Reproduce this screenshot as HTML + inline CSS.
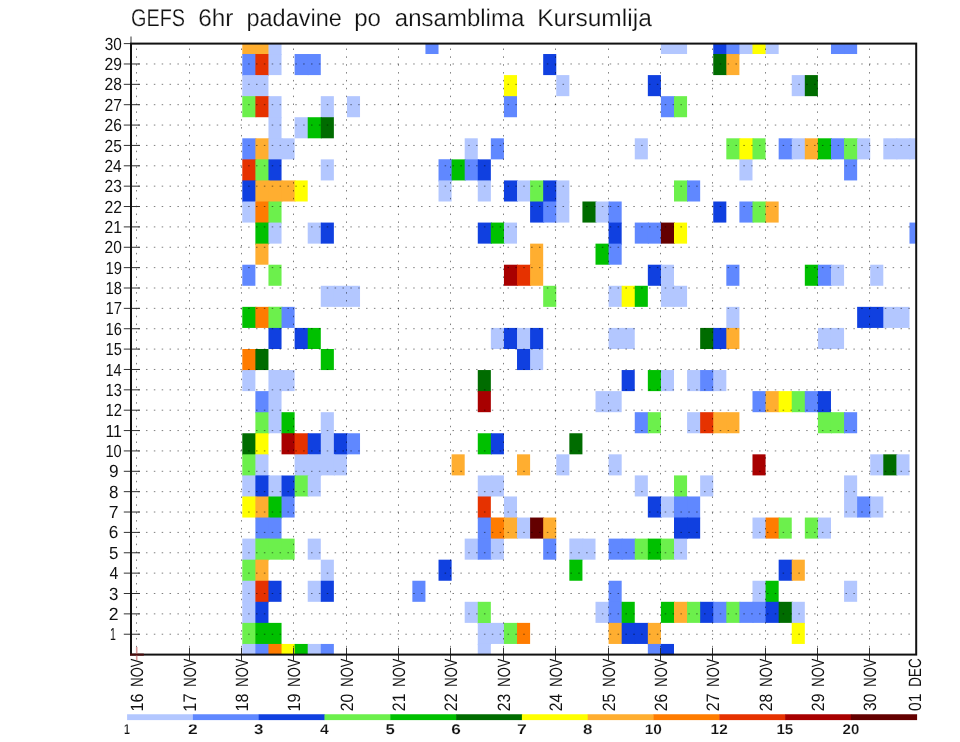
<!DOCTYPE html><html><head><meta charset="utf-8"><style>html,body{margin:0;padding:0;background:#fff;}svg{display:block;will-change:transform;}</style></head><body>
<svg width="960" height="742" viewBox="0 0 960 742" font-family="Liberation Sans, sans-serif" text-rendering="geometricPrecision">
<rect x="0" y="0" width="960" height="742" fill="#fff"/>
<g><rect x="242.30" y="43.60" width="14.08" height="11.42" fill="#ffae30"/><rect x="255.38" y="43.60" width="14.08" height="11.42" fill="#ffae30"/><rect x="268.46" y="43.60" width="13.08" height="11.42" fill="#b3c7ff"/><rect x="425.44" y="43.60" width="13.08" height="10.42" fill="#6088ff"/><rect x="660.92" y="43.60" width="14.08" height="10.42" fill="#b3c7ff"/><rect x="674.00" y="43.60" width="13.08" height="10.42" fill="#b3c7ff"/><rect x="713.25" y="43.60" width="14.08" height="11.42" fill="#1040e0"/><path d="M726.33 43.60H740.41V54.02H739.41V55.02H726.33Z" fill="#6088ff"/><rect x="739.41" y="43.60" width="14.08" height="10.42" fill="#b3c7ff"/><rect x="752.49" y="43.60" width="14.08" height="10.42" fill="#ffff00"/><rect x="765.58" y="43.60" width="13.08" height="10.42" fill="#b3c7ff"/><rect x="830.99" y="43.60" width="14.08" height="10.42" fill="#6088ff"/><rect x="844.07" y="43.60" width="13.08" height="10.42" fill="#6088ff"/><rect x="242.30" y="54.02" width="14.08" height="22.07" fill="#6088ff"/><path d="M255.38 54.02H269.46V75.09H268.46V76.09H255.38Z" fill="#e63200"/><rect x="268.46" y="54.02" width="13.08" height="21.07" fill="#b3c7ff"/><rect x="294.62" y="54.02" width="14.08" height="21.07" fill="#6088ff"/><rect x="307.71" y="54.02" width="13.08" height="21.07" fill="#6088ff"/><rect x="543.18" y="54.02" width="13.08" height="21.07" fill="#1040e0"/><rect x="713.25" y="54.02" width="14.08" height="21.07" fill="#006c00"/><rect x="726.33" y="54.02" width="13.08" height="21.07" fill="#ffae30"/><rect x="242.30" y="75.09" width="14.08" height="22.07" fill="#b3c7ff"/><rect x="255.38" y="75.09" width="13.08" height="22.07" fill="#b3c7ff"/><rect x="503.94" y="75.09" width="13.08" height="22.07" fill="#ffff00"/><rect x="556.26" y="75.09" width="13.08" height="21.07" fill="#b3c7ff"/><rect x="647.84" y="75.09" width="13.08" height="21.07" fill="#1040e0"/><rect x="791.74" y="75.09" width="14.08" height="21.07" fill="#b3c7ff"/><rect x="804.82" y="75.09" width="13.08" height="21.07" fill="#006c00"/><rect x="242.30" y="96.16" width="14.08" height="21.07" fill="#6cf04c"/><rect x="255.38" y="96.16" width="14.08" height="21.07" fill="#e63200"/><rect x="268.46" y="96.16" width="13.08" height="22.07" fill="#b3c7ff"/><rect x="320.79" y="96.16" width="13.08" height="22.07" fill="#b3c7ff"/><rect x="346.95" y="96.16" width="13.08" height="21.07" fill="#b3c7ff"/><rect x="503.94" y="96.16" width="13.08" height="21.07" fill="#6088ff"/><rect x="660.92" y="96.16" width="14.08" height="21.07" fill="#6088ff"/><rect x="674.00" y="96.16" width="13.08" height="21.07" fill="#6cf04c"/><rect x="268.46" y="117.23" width="13.08" height="22.07" fill="#b3c7ff"/><rect x="294.62" y="117.23" width="14.08" height="21.07" fill="#b3c7ff"/><rect x="307.71" y="117.23" width="14.08" height="21.07" fill="#00c000"/><rect x="320.79" y="117.23" width="13.08" height="21.07" fill="#006c00"/><rect x="242.30" y="138.30" width="14.08" height="22.07" fill="#6088ff"/><rect x="255.38" y="138.30" width="14.08" height="22.07" fill="#ffae30"/><path d="M268.46 138.30H282.54V159.37H281.54V160.37H268.46Z" fill="#b3c7ff"/><rect x="281.54" y="138.30" width="13.08" height="21.07" fill="#b3c7ff"/><rect x="464.69" y="138.30" width="13.08" height="22.07" fill="#b3c7ff"/><rect x="490.85" y="138.30" width="13.08" height="21.07" fill="#6088ff"/><rect x="634.76" y="138.30" width="13.08" height="21.07" fill="#b3c7ff"/><rect x="726.33" y="138.30" width="14.08" height="21.07" fill="#6cf04c"/><path d="M739.41 138.30H753.49V159.37H752.49V160.37H739.41Z" fill="#ffff00"/><rect x="752.49" y="138.30" width="13.08" height="21.07" fill="#6cf04c"/><rect x="778.66" y="138.30" width="14.08" height="21.07" fill="#6088ff"/><rect x="791.74" y="138.30" width="14.08" height="21.07" fill="#b3c7ff"/><rect x="804.82" y="138.30" width="14.08" height="21.07" fill="#ffae30"/><rect x="817.90" y="138.30" width="14.08" height="21.07" fill="#00c000"/><rect x="830.99" y="138.30" width="14.08" height="21.07" fill="#6088ff"/><path d="M844.07 138.30H858.15V159.37H857.15V160.37H844.07Z" fill="#6cf04c"/><rect x="857.15" y="138.30" width="13.08" height="21.07" fill="#b3c7ff"/><rect x="883.31" y="138.30" width="14.08" height="21.07" fill="#b3c7ff"/><rect x="896.40" y="138.30" width="14.08" height="21.07" fill="#b3c7ff"/><rect x="909.48" y="138.30" width="6.72" height="21.07" fill="#b3c7ff"/><rect x="242.30" y="159.37" width="14.08" height="22.07" fill="#e63200"/><rect x="255.38" y="159.37" width="14.08" height="22.07" fill="#6cf04c"/><rect x="268.46" y="159.37" width="13.08" height="22.07" fill="#1040e0"/><rect x="320.79" y="159.37" width="13.08" height="21.07" fill="#b3c7ff"/><path d="M438.53 159.37H452.61V180.43H451.61V181.43H438.53Z" fill="#6088ff"/><rect x="451.61" y="159.37" width="14.08" height="21.07" fill="#00c000"/><rect x="464.69" y="159.37" width="14.08" height="21.07" fill="#6088ff"/><rect x="477.77" y="159.37" width="13.08" height="22.07" fill="#1040e0"/><rect x="739.41" y="159.37" width="13.08" height="21.07" fill="#b3c7ff"/><rect x="844.07" y="159.37" width="13.08" height="21.07" fill="#6088ff"/><rect x="242.30" y="180.43" width="14.08" height="22.07" fill="#1040e0"/><rect x="255.38" y="180.43" width="14.08" height="22.07" fill="#ffae30"/><path d="M268.46 180.43H282.54V201.50H281.54V202.50H268.46Z" fill="#ffae30"/><rect x="281.54" y="180.43" width="14.08" height="21.07" fill="#ffae30"/><rect x="294.62" y="180.43" width="13.08" height="21.07" fill="#ffff00"/><rect x="438.53" y="180.43" width="13.08" height="21.07" fill="#b3c7ff"/><rect x="477.77" y="180.43" width="13.08" height="21.07" fill="#b3c7ff"/><rect x="503.94" y="180.43" width="14.08" height="21.07" fill="#1040e0"/><rect x="517.02" y="180.43" width="14.08" height="21.07" fill="#b3c7ff"/><rect x="530.10" y="180.43" width="14.08" height="22.07" fill="#6cf04c"/><rect x="543.18" y="180.43" width="14.08" height="22.07" fill="#1040e0"/><rect x="556.26" y="180.43" width="13.08" height="22.07" fill="#b3c7ff"/><rect x="674.00" y="180.43" width="14.08" height="21.07" fill="#6cf04c"/><rect x="687.08" y="180.43" width="13.08" height="21.07" fill="#6088ff"/><rect x="242.30" y="201.50" width="14.08" height="21.07" fill="#b3c7ff"/><rect x="255.38" y="201.50" width="14.08" height="22.07" fill="#ff7c00"/><rect x="268.46" y="201.50" width="13.08" height="22.07" fill="#6cf04c"/><rect x="530.10" y="201.50" width="14.08" height="21.07" fill="#1040e0"/><rect x="543.18" y="201.50" width="14.08" height="21.07" fill="#6088ff"/><rect x="556.26" y="201.50" width="13.08" height="21.07" fill="#b3c7ff"/><rect x="582.43" y="201.50" width="14.08" height="21.07" fill="#006c00"/><rect x="595.51" y="201.50" width="14.08" height="21.07" fill="#b3c7ff"/><rect x="608.59" y="201.50" width="13.08" height="22.07" fill="#6088ff"/><rect x="713.25" y="201.50" width="13.08" height="21.07" fill="#1040e0"/><rect x="739.41" y="201.50" width="14.08" height="21.07" fill="#6088ff"/><rect x="752.49" y="201.50" width="14.08" height="21.07" fill="#6cf04c"/><rect x="765.58" y="201.50" width="13.08" height="21.07" fill="#ffae30"/><path d="M255.38 222.57H269.46V243.64H268.46V244.64H255.38Z" fill="#00c000"/><rect x="268.46" y="222.57" width="13.08" height="21.07" fill="#b3c7ff"/><rect x="307.71" y="222.57" width="14.08" height="21.07" fill="#b3c7ff"/><rect x="320.79" y="222.57" width="13.08" height="21.07" fill="#1040e0"/><rect x="477.77" y="222.57" width="14.08" height="21.07" fill="#1040e0"/><rect x="490.85" y="222.57" width="14.08" height="21.07" fill="#00c000"/><rect x="503.94" y="222.57" width="13.08" height="21.07" fill="#b3c7ff"/><rect x="608.59" y="222.57" width="13.08" height="22.07" fill="#1040e0"/><rect x="634.76" y="222.57" width="14.08" height="21.07" fill="#6088ff"/><rect x="647.84" y="222.57" width="14.08" height="21.07" fill="#6088ff"/><rect x="660.92" y="222.57" width="14.08" height="21.07" fill="#640000"/><rect x="674.00" y="222.57" width="13.08" height="21.07" fill="#ffff00"/><rect x="909.48" y="222.57" width="6.72" height="21.07" fill="#6088ff"/><rect x="255.38" y="243.64" width="13.08" height="21.07" fill="#ffae30"/><rect x="530.10" y="243.64" width="13.08" height="22.07" fill="#ffae30"/><rect x="595.51" y="243.64" width="14.08" height="21.07" fill="#00c000"/><rect x="608.59" y="243.64" width="13.08" height="21.07" fill="#6088ff"/><rect x="242.30" y="264.71" width="13.08" height="21.07" fill="#6088ff"/><rect x="268.46" y="264.71" width="13.08" height="21.07" fill="#6cf04c"/><rect x="503.94" y="264.71" width="14.08" height="21.07" fill="#a80000"/><rect x="517.02" y="264.71" width="14.08" height="21.07" fill="#e63200"/><rect x="530.10" y="264.71" width="13.08" height="21.07" fill="#ffae30"/><rect x="647.84" y="264.71" width="14.08" height="21.07" fill="#1040e0"/><rect x="660.92" y="264.71" width="13.08" height="22.07" fill="#b3c7ff"/><rect x="726.33" y="264.71" width="13.08" height="21.07" fill="#6088ff"/><rect x="804.82" y="264.71" width="14.08" height="21.07" fill="#00c000"/><rect x="817.90" y="264.71" width="14.08" height="21.07" fill="#6088ff"/><rect x="830.99" y="264.71" width="13.08" height="21.07" fill="#b3c7ff"/><rect x="870.23" y="264.71" width="13.08" height="21.07" fill="#b3c7ff"/><rect x="320.79" y="285.78" width="14.08" height="21.07" fill="#b3c7ff"/><rect x="333.87" y="285.78" width="14.08" height="21.07" fill="#b3c7ff"/><rect x="346.95" y="285.78" width="13.08" height="21.07" fill="#b3c7ff"/><rect x="543.18" y="285.78" width="13.08" height="21.07" fill="#6cf04c"/><rect x="608.59" y="285.78" width="14.08" height="21.07" fill="#b3c7ff"/><rect x="621.67" y="285.78" width="14.08" height="21.07" fill="#ffff00"/><rect x="634.76" y="285.78" width="13.08" height="21.07" fill="#00c000"/><rect x="660.92" y="285.78" width="14.08" height="21.07" fill="#b3c7ff"/><rect x="674.00" y="285.78" width="13.08" height="21.07" fill="#b3c7ff"/><rect x="242.30" y="306.85" width="14.08" height="21.07" fill="#00c000"/><rect x="255.38" y="306.85" width="14.08" height="21.07" fill="#ff7c00"/><path d="M268.46 306.85H282.54V327.92H281.54V328.92H268.46Z" fill="#6cf04c"/><rect x="281.54" y="306.85" width="13.08" height="21.07" fill="#6088ff"/><rect x="726.33" y="306.85" width="13.08" height="22.07" fill="#b3c7ff"/><rect x="857.15" y="306.85" width="14.08" height="21.07" fill="#1040e0"/><rect x="870.23" y="306.85" width="14.08" height="21.07" fill="#1040e0"/><rect x="883.31" y="306.85" width="14.08" height="21.07" fill="#b3c7ff"/><rect x="896.40" y="306.85" width="13.08" height="21.07" fill="#b3c7ff"/><rect x="268.46" y="327.92" width="13.08" height="21.07" fill="#1040e0"/><rect x="294.62" y="327.92" width="14.08" height="21.07" fill="#1040e0"/><rect x="307.71" y="327.92" width="13.08" height="21.07" fill="#00c000"/><rect x="490.85" y="327.92" width="14.08" height="21.07" fill="#b3c7ff"/><rect x="503.94" y="327.92" width="14.08" height="21.07" fill="#1040e0"/><rect x="517.02" y="327.92" width="14.08" height="22.07" fill="#b3c7ff"/><rect x="530.10" y="327.92" width="13.08" height="22.07" fill="#1040e0"/><rect x="608.59" y="327.92" width="14.08" height="21.07" fill="#b3c7ff"/><rect x="621.67" y="327.92" width="13.08" height="21.07" fill="#b3c7ff"/><rect x="700.17" y="327.92" width="14.08" height="21.07" fill="#006c00"/><rect x="713.25" y="327.92" width="14.08" height="21.07" fill="#1040e0"/><rect x="726.33" y="327.92" width="13.08" height="21.07" fill="#ffae30"/><rect x="817.90" y="327.92" width="14.08" height="21.07" fill="#b3c7ff"/><rect x="830.99" y="327.92" width="13.08" height="21.07" fill="#b3c7ff"/><path d="M242.30 348.99H256.38V370.05H255.38V371.05H242.30Z" fill="#ff7c00"/><rect x="255.38" y="348.99" width="13.08" height="21.07" fill="#006c00"/><rect x="320.79" y="348.99" width="13.08" height="21.07" fill="#00c000"/><rect x="517.02" y="348.99" width="14.08" height="21.07" fill="#1040e0"/><rect x="530.10" y="348.99" width="13.08" height="21.07" fill="#b3c7ff"/><rect x="242.30" y="370.05" width="13.08" height="21.07" fill="#b3c7ff"/><path d="M268.46 370.05H282.54V391.12H281.54V392.12H268.46Z" fill="#b3c7ff"/><rect x="281.54" y="370.05" width="13.08" height="21.07" fill="#b3c7ff"/><rect x="477.77" y="370.05" width="13.08" height="22.07" fill="#006c00"/><rect x="621.67" y="370.05" width="13.08" height="21.07" fill="#1040e0"/><rect x="647.84" y="370.05" width="14.08" height="21.07" fill="#00c000"/><rect x="660.92" y="370.05" width="13.08" height="21.07" fill="#b3c7ff"/><rect x="687.08" y="370.05" width="14.08" height="21.07" fill="#b3c7ff"/><rect x="700.17" y="370.05" width="14.08" height="21.07" fill="#6088ff"/><rect x="713.25" y="370.05" width="13.08" height="21.07" fill="#b3c7ff"/><rect x="255.38" y="391.12" width="14.08" height="22.07" fill="#6088ff"/><rect x="268.46" y="391.12" width="13.08" height="22.07" fill="#b3c7ff"/><rect x="477.77" y="391.12" width="13.08" height="21.07" fill="#a80000"/><rect x="595.51" y="391.12" width="14.08" height="21.07" fill="#b3c7ff"/><rect x="608.59" y="391.12" width="13.08" height="21.07" fill="#b3c7ff"/><rect x="752.49" y="391.12" width="14.08" height="21.07" fill="#6088ff"/><rect x="765.58" y="391.12" width="14.08" height="21.07" fill="#ffae30"/><rect x="778.66" y="391.12" width="14.08" height="21.07" fill="#ffff00"/><rect x="791.74" y="391.12" width="14.08" height="21.07" fill="#6cf04c"/><rect x="804.82" y="391.12" width="14.08" height="21.07" fill="#6088ff"/><rect x="817.90" y="391.12" width="13.08" height="22.07" fill="#1040e0"/><path d="M255.38 412.19H269.46V433.26H268.46V434.26H255.38Z" fill="#6cf04c"/><rect x="268.46" y="412.19" width="14.08" height="21.07" fill="#b3c7ff"/><rect x="281.54" y="412.19" width="13.08" height="22.07" fill="#00c000"/><rect x="320.79" y="412.19" width="13.08" height="22.07" fill="#b3c7ff"/><rect x="634.76" y="412.19" width="14.08" height="21.07" fill="#6088ff"/><rect x="647.84" y="412.19" width="13.08" height="21.07" fill="#6cf04c"/><rect x="687.08" y="412.19" width="14.08" height="21.07" fill="#b3c7ff"/><rect x="700.17" y="412.19" width="14.08" height="21.07" fill="#e63200"/><rect x="713.25" y="412.19" width="14.08" height="21.07" fill="#ffae30"/><rect x="726.33" y="412.19" width="13.08" height="21.07" fill="#ffae30"/><rect x="817.90" y="412.19" width="14.08" height="21.07" fill="#6cf04c"/><rect x="830.99" y="412.19" width="14.08" height="21.07" fill="#6cf04c"/><rect x="844.07" y="412.19" width="13.08" height="21.07" fill="#6088ff"/><rect x="242.30" y="433.26" width="14.08" height="22.07" fill="#006c00"/><rect x="255.38" y="433.26" width="13.08" height="22.07" fill="#ffff00"/><rect x="281.54" y="433.26" width="14.08" height="21.07" fill="#a80000"/><rect x="294.62" y="433.26" width="14.08" height="22.07" fill="#e63200"/><rect x="307.71" y="433.26" width="14.08" height="22.07" fill="#1040e0"/><rect x="320.79" y="433.26" width="14.08" height="22.07" fill="#b3c7ff"/><path d="M333.87 433.26H347.95V454.33H346.95V455.33H333.87Z" fill="#1040e0"/><rect x="346.95" y="433.26" width="13.08" height="21.07" fill="#6088ff"/><rect x="477.77" y="433.26" width="14.08" height="21.07" fill="#00c000"/><rect x="490.85" y="433.26" width="13.08" height="21.07" fill="#1040e0"/><rect x="569.35" y="433.26" width="13.08" height="21.07" fill="#006c00"/><rect x="242.30" y="454.33" width="14.08" height="22.07" fill="#6cf04c"/><rect x="255.38" y="454.33" width="13.08" height="22.07" fill="#b3c7ff"/><rect x="294.62" y="454.33" width="14.08" height="22.07" fill="#b3c7ff"/><path d="M307.71 454.33H321.79V475.40H320.79V476.40H307.71Z" fill="#b3c7ff"/><rect x="320.79" y="454.33" width="14.08" height="21.07" fill="#b3c7ff"/><rect x="333.87" y="454.33" width="13.08" height="21.07" fill="#b3c7ff"/><rect x="451.61" y="454.33" width="13.08" height="21.07" fill="#ffae30"/><rect x="517.02" y="454.33" width="13.08" height="21.07" fill="#ffae30"/><rect x="556.26" y="454.33" width="13.08" height="21.07" fill="#b3c7ff"/><rect x="608.59" y="454.33" width="13.08" height="21.07" fill="#b3c7ff"/><rect x="752.49" y="454.33" width="13.08" height="21.07" fill="#a80000"/><rect x="870.23" y="454.33" width="14.08" height="21.07" fill="#b3c7ff"/><rect x="883.31" y="454.33" width="14.08" height="21.07" fill="#006c00"/><rect x="896.40" y="454.33" width="13.08" height="21.07" fill="#b3c7ff"/><rect x="242.30" y="475.40" width="14.08" height="22.07" fill="#b3c7ff"/><rect x="255.38" y="475.40" width="14.08" height="22.07" fill="#1040e0"/><rect x="268.46" y="475.40" width="14.08" height="22.07" fill="#b3c7ff"/><path d="M281.54 475.40H295.62V496.47H294.62V497.47H281.54Z" fill="#1040e0"/><rect x="294.62" y="475.40" width="14.08" height="21.07" fill="#6cf04c"/><rect x="307.71" y="475.40" width="13.08" height="21.07" fill="#b3c7ff"/><path d="M477.77 475.40H491.85V496.47H490.85V497.47H477.77Z" fill="#b3c7ff"/><rect x="490.85" y="475.40" width="13.08" height="21.07" fill="#b3c7ff"/><rect x="634.76" y="475.40" width="13.08" height="21.07" fill="#b3c7ff"/><rect x="674.00" y="475.40" width="13.08" height="22.07" fill="#6cf04c"/><rect x="700.17" y="475.40" width="13.08" height="21.07" fill="#b3c7ff"/><rect x="844.07" y="475.40" width="13.08" height="22.07" fill="#b3c7ff"/><rect x="242.30" y="496.47" width="14.08" height="21.07" fill="#ffff00"/><rect x="255.38" y="496.47" width="14.08" height="22.07" fill="#ffae30"/><path d="M268.46 496.47H282.54V517.54H281.54V518.54H268.46Z" fill="#00c000"/><rect x="281.54" y="496.47" width="13.08" height="21.07" fill="#6088ff"/><rect x="477.77" y="496.47" width="13.08" height="22.07" fill="#e63200"/><rect x="503.94" y="496.47" width="13.08" height="22.07" fill="#b3c7ff"/><rect x="647.84" y="496.47" width="14.08" height="21.07" fill="#1040e0"/><rect x="660.92" y="496.47" width="14.08" height="21.07" fill="#b3c7ff"/><rect x="674.00" y="496.47" width="14.08" height="22.07" fill="#6088ff"/><rect x="687.08" y="496.47" width="13.08" height="22.07" fill="#6088ff"/><rect x="844.07" y="496.47" width="14.08" height="21.07" fill="#b3c7ff"/><rect x="857.15" y="496.47" width="14.08" height="21.07" fill="#6088ff"/><rect x="870.23" y="496.47" width="13.08" height="21.07" fill="#b3c7ff"/><rect x="255.38" y="517.54" width="14.08" height="22.07" fill="#6088ff"/><rect x="268.46" y="517.54" width="13.08" height="22.07" fill="#6088ff"/><rect x="477.77" y="517.54" width="14.08" height="22.07" fill="#6088ff"/><path d="M490.85 517.54H504.94V538.61H503.94V539.61H490.85Z" fill="#ff7c00"/><rect x="503.94" y="517.54" width="14.08" height="21.07" fill="#ffae30"/><rect x="517.02" y="517.54" width="14.08" height="21.07" fill="#b3c7ff"/><rect x="530.10" y="517.54" width="14.08" height="21.07" fill="#640000"/><rect x="543.18" y="517.54" width="13.08" height="22.07" fill="#ffae30"/><path d="M674.00 517.54H688.08V538.61H687.08V539.61H674.00Z" fill="#1040e0"/><rect x="687.08" y="517.54" width="13.08" height="21.07" fill="#1040e0"/><rect x="752.49" y="517.54" width="14.08" height="21.07" fill="#b3c7ff"/><rect x="765.58" y="517.54" width="14.08" height="21.07" fill="#ff7c00"/><rect x="778.66" y="517.54" width="13.08" height="21.07" fill="#6cf04c"/><rect x="804.82" y="517.54" width="14.08" height="21.07" fill="#6cf04c"/><rect x="817.90" y="517.54" width="13.08" height="21.07" fill="#b3c7ff"/><rect x="242.30" y="538.61" width="14.08" height="22.07" fill="#b3c7ff"/><path d="M255.38 538.61H269.46V559.68H268.46V560.68H255.38Z" fill="#6cf04c"/><rect x="268.46" y="538.61" width="14.08" height="21.07" fill="#6cf04c"/><rect x="281.54" y="538.61" width="13.08" height="21.07" fill="#6cf04c"/><rect x="307.71" y="538.61" width="13.08" height="21.07" fill="#b3c7ff"/><rect x="464.69" y="538.61" width="14.08" height="21.07" fill="#b3c7ff"/><rect x="477.77" y="538.61" width="14.08" height="21.07" fill="#6088ff"/><rect x="490.85" y="538.61" width="13.08" height="21.07" fill="#b3c7ff"/><rect x="543.18" y="538.61" width="13.08" height="21.07" fill="#6088ff"/><path d="M569.35 538.61H583.43V559.68H582.43V560.68H569.35Z" fill="#b3c7ff"/><rect x="582.43" y="538.61" width="13.08" height="21.07" fill="#b3c7ff"/><rect x="608.59" y="538.61" width="14.08" height="21.07" fill="#6088ff"/><rect x="621.67" y="538.61" width="14.08" height="21.07" fill="#6088ff"/><rect x="634.76" y="538.61" width="14.08" height="21.07" fill="#6cf04c"/><rect x="647.84" y="538.61" width="14.08" height="21.07" fill="#00c000"/><rect x="660.92" y="538.61" width="14.08" height="21.07" fill="#6cf04c"/><rect x="674.00" y="538.61" width="13.08" height="21.07" fill="#b3c7ff"/><rect x="242.30" y="559.68" width="14.08" height="22.07" fill="#6cf04c"/><rect x="255.38" y="559.68" width="13.08" height="22.07" fill="#ffae30"/><rect x="320.79" y="559.68" width="13.08" height="22.07" fill="#b3c7ff"/><rect x="438.53" y="559.68" width="13.08" height="21.07" fill="#1040e0"/><rect x="569.35" y="559.68" width="13.08" height="21.07" fill="#00c000"/><rect x="778.66" y="559.68" width="14.08" height="21.07" fill="#1040e0"/><rect x="791.74" y="559.68" width="13.08" height="21.07" fill="#ffae30"/><rect x="242.30" y="580.75" width="14.08" height="22.07" fill="#b3c7ff"/><path d="M255.38 580.75H269.46V601.81H268.46V602.81H255.38Z" fill="#e63200"/><rect x="268.46" y="580.75" width="13.08" height="21.07" fill="#1040e0"/><rect x="307.71" y="580.75" width="14.08" height="21.07" fill="#b3c7ff"/><rect x="320.79" y="580.75" width="13.08" height="21.07" fill="#1040e0"/><rect x="412.36" y="580.75" width="13.08" height="21.07" fill="#6088ff"/><rect x="608.59" y="580.75" width="13.08" height="22.07" fill="#6088ff"/><rect x="752.49" y="580.75" width="14.08" height="22.07" fill="#b3c7ff"/><rect x="765.58" y="580.75" width="13.08" height="22.07" fill="#00c000"/><rect x="844.07" y="580.75" width="13.08" height="21.07" fill="#b3c7ff"/><rect x="242.30" y="601.81" width="14.08" height="22.07" fill="#b3c7ff"/><rect x="255.38" y="601.81" width="13.08" height="22.07" fill="#1040e0"/><rect x="464.69" y="601.81" width="14.08" height="21.07" fill="#b3c7ff"/><rect x="477.77" y="601.81" width="13.08" height="22.07" fill="#6cf04c"/><rect x="595.51" y="601.81" width="14.08" height="21.07" fill="#b3c7ff"/><rect x="608.59" y="601.81" width="14.08" height="22.07" fill="#6088ff"/><rect x="621.67" y="601.81" width="13.08" height="22.07" fill="#00c000"/><rect x="660.92" y="601.81" width="14.08" height="21.07" fill="#00c000"/><rect x="674.00" y="601.81" width="14.08" height="21.07" fill="#ffae30"/><rect x="687.08" y="601.81" width="14.08" height="21.07" fill="#6cf04c"/><rect x="700.17" y="601.81" width="14.08" height="21.07" fill="#1040e0"/><rect x="713.25" y="601.81" width="14.08" height="21.07" fill="#6088ff"/><rect x="726.33" y="601.81" width="14.08" height="21.07" fill="#6cf04c"/><rect x="739.41" y="601.81" width="14.08" height="21.07" fill="#6088ff"/><rect x="752.49" y="601.81" width="14.08" height="21.07" fill="#6088ff"/><rect x="765.58" y="601.81" width="14.08" height="21.07" fill="#1040e0"/><rect x="778.66" y="601.81" width="14.08" height="21.07" fill="#006c00"/><rect x="791.74" y="601.81" width="13.08" height="22.07" fill="#b3c7ff"/><rect x="242.30" y="622.88" width="14.08" height="22.07" fill="#6cf04c"/><rect x="255.38" y="622.88" width="14.08" height="22.07" fill="#00c000"/><rect x="268.46" y="622.88" width="13.08" height="22.07" fill="#00c000"/><path d="M477.77 622.88H491.85V643.95H490.85V644.95H477.77Z" fill="#b3c7ff"/><rect x="490.85" y="622.88" width="14.08" height="21.07" fill="#b3c7ff"/><rect x="503.94" y="622.88" width="14.08" height="21.07" fill="#6cf04c"/><rect x="517.02" y="622.88" width="13.08" height="21.07" fill="#ff7c00"/><rect x="608.59" y="622.88" width="14.08" height="21.07" fill="#ffae30"/><rect x="621.67" y="622.88" width="14.08" height="21.07" fill="#1040e0"/><rect x="634.76" y="622.88" width="14.08" height="21.07" fill="#1040e0"/><rect x="647.84" y="622.88" width="13.08" height="22.07" fill="#ffae30"/><rect x="791.74" y="622.88" width="13.08" height="21.07" fill="#ffff00"/><rect x="242.30" y="643.95" width="14.08" height="10.65" fill="#b3c7ff"/><rect x="255.38" y="643.95" width="14.08" height="10.65" fill="#6088ff"/><rect x="268.46" y="643.95" width="14.08" height="10.65" fill="#ff7c00"/><rect x="281.54" y="643.95" width="14.08" height="10.65" fill="#ffff00"/><rect x="294.62" y="643.95" width="14.08" height="10.65" fill="#00c000"/><rect x="307.71" y="643.95" width="14.08" height="10.65" fill="#b3c7ff"/><rect x="320.79" y="643.95" width="13.08" height="10.65" fill="#6088ff"/><rect x="477.77" y="643.95" width="13.08" height="10.65" fill="#b3c7ff"/><rect x="647.84" y="643.95" width="14.08" height="10.65" fill="#6088ff"/><rect x="660.92" y="643.95" width="13.08" height="10.65" fill="#1040e0"/></g>
<g stroke="#000" stroke-opacity="0.5" stroke-width="1" stroke-dasharray="1.5 6.36" stroke-dashoffset="-0.25"><line x1="136.50" y1="655.46" x2="136.50" y2="43.60"/><line x1="189.50" y1="655.46" x2="189.50" y2="43.60"/><line x1="241.50" y1="655.46" x2="241.50" y2="43.60"/><line x1="293.50" y1="655.46" x2="293.50" y2="43.60"/><line x1="346.50" y1="655.46" x2="346.50" y2="43.60"/><line x1="398.50" y1="655.46" x2="398.50" y2="43.60"/><line x1="450.50" y1="655.46" x2="450.50" y2="43.60"/><line x1="503.50" y1="655.46" x2="503.50" y2="43.60"/><line x1="555.50" y1="655.46" x2="555.50" y2="43.60"/><line x1="608.50" y1="655.46" x2="608.50" y2="43.60"/><line x1="660.50" y1="655.46" x2="660.50" y2="43.60"/><line x1="712.50" y1="655.46" x2="712.50" y2="43.60"/><line x1="765.50" y1="655.46" x2="765.50" y2="43.60"/><line x1="817.50" y1="655.46" x2="817.50" y2="43.60"/><line x1="869.50" y1="655.46" x2="869.50" y2="43.60"/></g>
<g stroke="#000" stroke-opacity="0.5" stroke-width="1" stroke-dasharray="1.5 6.36" stroke-dashoffset="-0.25"><line x1="130.00" y1="634.23" x2="916.20" y2="634.23"/><line x1="130.00" y1="613.87" x2="916.20" y2="613.87"/><line x1="130.00" y1="593.50" x2="916.20" y2="593.50"/><line x1="130.00" y1="573.13" x2="916.20" y2="573.13"/><line x1="130.00" y1="552.77" x2="916.20" y2="552.77"/><line x1="130.00" y1="532.40" x2="916.20" y2="532.40"/><line x1="130.00" y1="512.03" x2="916.20" y2="512.03"/><line x1="130.00" y1="491.67" x2="916.20" y2="491.67"/><line x1="130.00" y1="471.30" x2="916.20" y2="471.30"/><line x1="130.00" y1="450.93" x2="916.20" y2="450.93"/><line x1="130.00" y1="430.57" x2="916.20" y2="430.57"/><line x1="130.00" y1="410.20" x2="916.20" y2="410.20"/><line x1="130.00" y1="389.83" x2="916.20" y2="389.83"/><line x1="130.00" y1="369.47" x2="916.20" y2="369.47"/><line x1="130.00" y1="349.10" x2="916.20" y2="349.10"/><line x1="130.00" y1="328.73" x2="916.20" y2="328.73"/><line x1="130.00" y1="308.37" x2="916.20" y2="308.37"/><line x1="130.00" y1="288.00" x2="916.20" y2="288.00"/><line x1="130.00" y1="267.63" x2="916.20" y2="267.63"/><line x1="130.00" y1="247.27" x2="916.20" y2="247.27"/><line x1="130.00" y1="226.90" x2="916.20" y2="226.90"/><line x1="130.00" y1="206.53" x2="916.20" y2="206.53"/><line x1="130.00" y1="186.17" x2="916.20" y2="186.17"/><line x1="130.00" y1="165.80" x2="916.20" y2="165.80"/><line x1="130.00" y1="145.43" x2="916.20" y2="145.43"/><line x1="130.00" y1="125.07" x2="916.20" y2="125.07"/><line x1="130.00" y1="104.70" x2="916.20" y2="104.70"/><line x1="130.00" y1="84.33" x2="916.20" y2="84.33"/><line x1="130.00" y1="63.97" x2="916.20" y2="63.97"/></g>
<g stroke="#333" stroke-width="1"><line x1="123.8" y1="634.23" x2="140" y2="634.23"/><line x1="123.8" y1="613.87" x2="140" y2="613.87"/><line x1="123.8" y1="593.50" x2="140" y2="593.50"/><line x1="123.8" y1="573.13" x2="140" y2="573.13"/><line x1="123.8" y1="552.77" x2="140" y2="552.77"/><line x1="123.8" y1="532.40" x2="140" y2="532.40"/><line x1="123.8" y1="512.03" x2="140" y2="512.03"/><line x1="123.8" y1="491.67" x2="140" y2="491.67"/><line x1="123.8" y1="471.30" x2="140" y2="471.30"/><line x1="123.8" y1="450.93" x2="140" y2="450.93"/><line x1="123.8" y1="430.57" x2="140" y2="430.57"/><line x1="123.8" y1="410.20" x2="140" y2="410.20"/><line x1="123.8" y1="389.83" x2="140" y2="389.83"/><line x1="123.8" y1="369.47" x2="140" y2="369.47"/><line x1="123.8" y1="349.10" x2="140" y2="349.10"/><line x1="123.8" y1="328.73" x2="140" y2="328.73"/><line x1="123.8" y1="308.37" x2="140" y2="308.37"/><line x1="123.8" y1="288.00" x2="140" y2="288.00"/><line x1="123.8" y1="267.63" x2="140" y2="267.63"/><line x1="123.8" y1="247.27" x2="140" y2="247.27"/><line x1="123.8" y1="226.90" x2="140" y2="226.90"/><line x1="123.8" y1="206.53" x2="140" y2="206.53"/><line x1="123.8" y1="186.17" x2="140" y2="186.17"/><line x1="123.8" y1="165.80" x2="140" y2="165.80"/><line x1="123.8" y1="145.43" x2="140" y2="145.43"/><line x1="123.8" y1="125.07" x2="140" y2="125.07"/><line x1="123.8" y1="104.70" x2="140" y2="104.70"/><line x1="123.8" y1="84.33" x2="140" y2="84.33"/><line x1="123.8" y1="63.97" x2="140" y2="63.97"/><line x1="123.8" y1="43.60" x2="140" y2="43.60"/><line x1="189.50" y1="647.80" x2="189.50" y2="660.80"/><line x1="241.50" y1="647.80" x2="241.50" y2="660.80"/><line x1="293.50" y1="647.80" x2="293.50" y2="660.80"/><line x1="346.50" y1="647.80" x2="346.50" y2="660.80"/><line x1="398.50" y1="647.80" x2="398.50" y2="660.80"/><line x1="450.50" y1="647.80" x2="450.50" y2="660.80"/><line x1="503.50" y1="647.80" x2="503.50" y2="660.80"/><line x1="555.50" y1="647.80" x2="555.50" y2="660.80"/><line x1="608.50" y1="647.80" x2="608.50" y2="660.80"/><line x1="660.50" y1="647.80" x2="660.50" y2="660.80"/><line x1="712.50" y1="647.80" x2="712.50" y2="660.80"/><line x1="765.50" y1="647.80" x2="765.50" y2="660.80"/><line x1="817.50" y1="647.80" x2="817.50" y2="660.80"/><line x1="869.50" y1="647.80" x2="869.50" y2="660.80"/><line x1="131.00" y1="36.5" x2="131.00" y2="43.60"/></g>
<rect x="131.00" y="43.60" width="785.20" height="611.00" fill="none" stroke="#111" stroke-width="2"/>
<line x1="136.7" y1="647" x2="136.7" y2="660" stroke="#d89a9a" stroke-width="1.6"/>
<line x1="130.00" y1="654.60" x2="143.80" y2="654.60" stroke="#4a0a0a" stroke-width="2"/>
<g><rect x="127.10" y="714.25" width="66.20" height="5.85" fill="#b3c7ff"/><rect x="192.90" y="714.25" width="66.20" height="5.85" fill="#6088ff"/><rect x="258.70" y="714.25" width="66.20" height="5.85" fill="#1040e0"/><rect x="324.50" y="714.25" width="66.20" height="5.85" fill="#6cf04c"/><rect x="390.30" y="714.25" width="66.20" height="5.85" fill="#00c000"/><rect x="456.10" y="714.25" width="66.20" height="5.85" fill="#006c00"/><rect x="521.90" y="714.25" width="66.20" height="5.85" fill="#ffff00"/><rect x="587.70" y="714.25" width="66.20" height="5.85" fill="#ffae30"/><rect x="653.50" y="714.25" width="66.20" height="5.85" fill="#ff7c00"/><rect x="719.30" y="714.25" width="66.20" height="5.85" fill="#e63200"/><rect x="785.10" y="714.25" width="66.20" height="5.85" fill="#a80000"/><rect x="850.90" y="714.25" width="66.20" height="5.85" fill="#640000"/></g>
<g fill="#111"><text transform="translate(131.01,26.36) scale(19.8476,24.2254)" font-size="1" stroke="#fff" stroke-width="0.0100">GEFS</text><text transform="translate(198.18,26.36) scale(24.3636,24.2254)" font-size="1" stroke="#fff" stroke-width="0.0091">6hr</text><text transform="translate(246.47,26.36) scale(23.4937,24.2254)" font-size="1" stroke="#fff" stroke-width="0.0092">padavine</text><text transform="translate(354.23,26.36) scale(24.0796,24.2254)" font-size="1" stroke="#fff" stroke-width="0.0091">po</text><text transform="translate(394.84,26.36) scale(24.0000,24.2254)" font-size="1" stroke="#fff" stroke-width="0.0091">ansamblima</text><text transform="translate(537.24,26.36) scale(24.5365,24.2254)" font-size="1" stroke="#fff" stroke-width="0.0090">Kursumlija</text><text transform="translate(110.11,640.31) scale(10.5747,17.6056)" font-size="1">1</text><text transform="translate(108.82,619.94) scale(17.5824,17.6056)" font-size="1">2</text><text transform="translate(109.03,599.57) scale(16.8421,17.6056)" font-size="1">3</text><text transform="translate(109.38,579.21) scale(15.8416,17.6056)" font-size="1">4</text><text transform="translate(109.03,558.84) scale(16.8421,17.6056)" font-size="1">5</text><text transform="translate(108.84,538.47) scale(17.2043,17.6056)" font-size="1">6</text><text transform="translate(108.82,518.11) scale(17.5824,17.6056)" font-size="1">7</text><text transform="translate(108.93,497.74) scale(17.0213,17.6056)" font-size="1">8</text><text transform="translate(108.93,477.37) scale(17.2043,17.6056)" font-size="1">9</text><text transform="translate(105.50,457.01) scale(14.6000,17.6056)" font-size="1">10</text><text transform="translate(105.40,436.64) scale(15.9563,17.6056)" font-size="1">11</text><text transform="translate(105.49,416.27) scale(14.8223,17.6056)" font-size="1">12</text><text transform="translate(105.50,395.91) scale(14.6734,17.6056)" font-size="1">13</text><text transform="translate(105.51,375.54) scale(14.5274,17.6056)" font-size="1">14</text><text transform="translate(105.50,355.17) scale(14.6734,17.6056)" font-size="1">15</text><text transform="translate(105.50,334.81) scale(14.6734,17.6056)" font-size="1">16</text><text transform="translate(105.49,314.44) scale(14.8223,17.6056)" font-size="1">17</text><text transform="translate(105.50,294.07) scale(14.6734,17.6056)" font-size="1">18</text><text transform="translate(105.49,273.71) scale(14.7475,17.6056)" font-size="1">19</text><text transform="translate(104.52,253.34) scale(15.5122,17.6056)" font-size="1">20</text><text transform="translate(104.52,232.97) scale(15.6650,17.6056)" font-size="1">21</text><text transform="translate(104.51,212.61) scale(15.7426,17.6056)" font-size="1">22</text><text transform="translate(104.52,192.24) scale(15.5882,17.6056)" font-size="1">23</text><text transform="translate(104.53,171.87) scale(15.4369,17.6056)" font-size="1">24</text><text transform="translate(104.52,151.51) scale(15.5882,17.6056)" font-size="1">25</text><text transform="translate(104.52,131.14) scale(15.5882,17.6056)" font-size="1">26</text><text transform="translate(104.51,110.77) scale(15.7426,17.6056)" font-size="1">27</text><text transform="translate(104.52,90.41) scale(15.5882,17.6056)" font-size="1">28</text><text transform="translate(104.52,70.04) scale(15.6650,17.6056)" font-size="1">29</text><text transform="translate(104.69,49.67) scale(15.3623,17.6056)" font-size="1">30</text><text transform="translate(142.72,711.61) rotate(-90) scale(16.1809,17.7465)" font-size="1">16</text><text transform="translate(142.72,686.63) rotate(-90) scale(12.8846,17.7465)" font-size="1">NOV</text><text transform="translate(195.90,711.63) rotate(-90) scale(16.3452,18.2609)" font-size="1">17</text><text transform="translate(195.72,686.63) rotate(-90) scale(12.8846,17.7465)" font-size="1">NOV</text><text transform="translate(247.72,711.61) rotate(-90) scale(16.1809,17.7465)" font-size="1">18</text><text transform="translate(247.72,686.63) rotate(-90) scale(12.8846,17.7465)" font-size="1">NOV</text><text transform="translate(299.72,711.62) rotate(-90) scale(16.2626,17.7465)" font-size="1">19</text><text transform="translate(299.72,686.63) rotate(-90) scale(12.8846,17.7465)" font-size="1">NOV</text><text transform="translate(352.72,711.19) rotate(-90) scale(15.7073,17.7465)" font-size="1">20</text><text transform="translate(352.72,686.63) rotate(-90) scale(12.8846,17.7465)" font-size="1">NOV</text><text transform="translate(404.90,711.19) rotate(-90) scale(15.8621,18.0000)" font-size="1">21</text><text transform="translate(404.72,686.63) rotate(-90) scale(12.8846,17.7465)" font-size="1">NOV</text><text transform="translate(456.90,711.20) rotate(-90) scale(15.9406,18.0000)" font-size="1">22</text><text transform="translate(456.72,686.63) rotate(-90) scale(12.8846,17.7465)" font-size="1">NOV</text><text transform="translate(509.72,711.19) rotate(-90) scale(15.7843,17.7465)" font-size="1">23</text><text transform="translate(509.72,686.63) rotate(-90) scale(12.8846,17.7465)" font-size="1">NOV</text><text transform="translate(561.90,711.18) rotate(-90) scale(15.6311,18.0000)" font-size="1">24</text><text transform="translate(561.72,686.63) rotate(-90) scale(12.8846,17.7465)" font-size="1">NOV</text><text transform="translate(614.72,711.19) rotate(-90) scale(15.7843,17.7465)" font-size="1">25</text><text transform="translate(614.72,686.63) rotate(-90) scale(12.8846,17.7465)" font-size="1">NOV</text><text transform="translate(666.72,711.19) rotate(-90) scale(15.7843,17.7465)" font-size="1">26</text><text transform="translate(666.72,686.63) rotate(-90) scale(12.8846,17.7465)" font-size="1">NOV</text><text transform="translate(718.90,711.20) rotate(-90) scale(15.9406,18.0000)" font-size="1">27</text><text transform="translate(718.72,686.63) rotate(-90) scale(12.8846,17.7465)" font-size="1">NOV</text><text transform="translate(771.72,711.19) rotate(-90) scale(15.7843,17.7465)" font-size="1">28</text><text transform="translate(771.72,686.63) rotate(-90) scale(12.8846,17.7465)" font-size="1">NOV</text><text transform="translate(823.72,711.19) rotate(-90) scale(15.8621,17.7465)" font-size="1">29</text><text transform="translate(823.72,686.63) rotate(-90) scale(12.8846,17.7465)" font-size="1">NOV</text><text transform="translate(875.72,711.02) rotate(-90) scale(15.5556,17.7465)" font-size="1">30</text><text transform="translate(875.72,686.63) rotate(-90) scale(12.8846,17.7465)" font-size="1">NOV</text><text transform="translate(920.52,711.03) rotate(-90) scale(15.7073,17.7465)" font-size="1">01</text><text transform="translate(920.52,686.67) rotate(-90) scale(13.4336,17.7465)" font-size="1">DEC</text><text transform="translate(123.96,734.20) scale(10.6383,14.3478)" font-size="1" font-weight="bold" stroke="#fff" stroke-width="0.0160">1</text><text transform="translate(188.09,734.20) scale(17.5000,14.1429)" font-size="1" font-weight="bold" stroke="#fff" stroke-width="0.0126">2</text><text transform="translate(254.08,734.06) scale(16.9697,13.9437)" font-size="1" font-weight="bold" stroke="#fff" stroke-width="0.0129">3</text><text transform="translate(320.06,734.20) scale(15.7009,14.3478)" font-size="1" font-weight="bold" stroke="#fff" stroke-width="0.0133">4</text><text transform="translate(385.60,734.06) scale(16.8000,14.1429)" font-size="1" font-weight="bold" stroke="#fff" stroke-width="0.0129">5</text><text transform="translate(451.29,734.06) scale(17.3196,13.9437)" font-size="1" font-weight="bold" stroke="#fff" stroke-width="0.0128">6</text><text transform="translate(516.99,734.20) scale(17.6842,14.3478)" font-size="1" font-weight="bold" stroke="#fff" stroke-width="0.0125">7</text><text transform="translate(582.99,734.06) scale(16.9697,13.9437)" font-size="1" font-weight="bold" stroke="#fff" stroke-width="0.0129">8</text><text transform="translate(644.77,734.06) scale(15.4455,13.9437)" font-size="1" font-weight="bold" stroke="#fff" stroke-width="0.0136">10</text><text transform="translate(710.57,734.20) scale(15.4455,14.1429)" font-size="1" font-weight="bold" stroke="#fff" stroke-width="0.0135">12</text><text transform="translate(776.39,734.06) scale(15.2195,14.1429)" font-size="1" font-weight="bold" stroke="#fff" stroke-width="0.0136">15</text><text transform="translate(842.57,734.06) scale(15.0725,13.9437)" font-size="1" font-weight="bold" stroke="#fff" stroke-width="0.0138">20</text></g>
</svg></body></html>
